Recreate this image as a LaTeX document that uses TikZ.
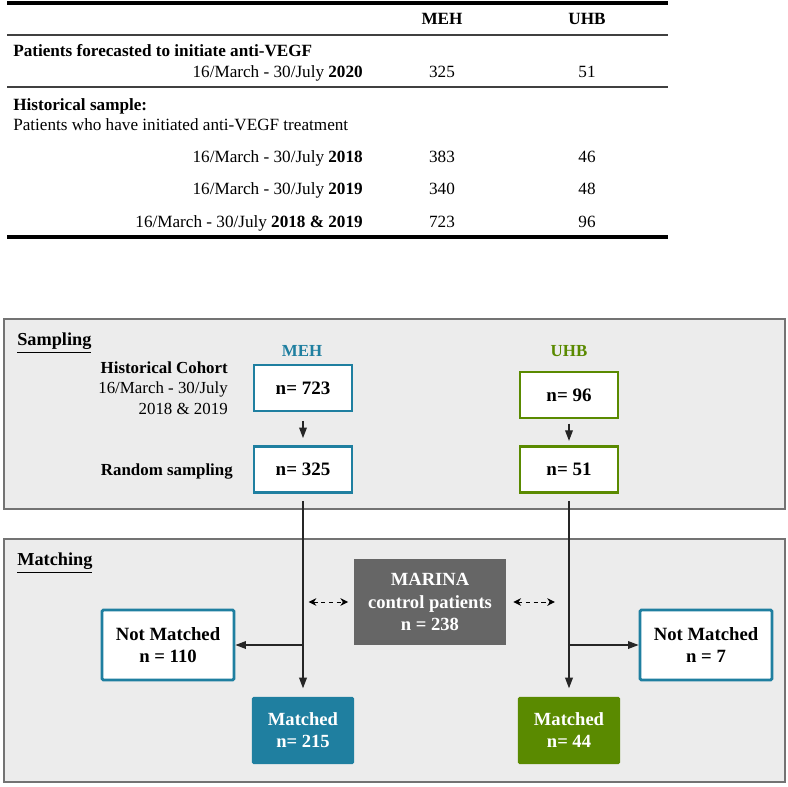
\documentclass[tikz,border=0pt]{standalone}
\usepackage{fontspec}
\setmainfont{Liberation Serif}
\usepackage{tikz}
\usetikzlibrary{positioning,arrows.meta}
\definecolor{mehblue}{HTML}{1F7FA0}
\definecolor{uhbgreen}{HTML}{5A8A00}
\definecolor{panelgray}{HTML}{ECECEC}
\definecolor{marinagray}{HTML}{666666}

\begin{document}
\begin{tikzpicture}[x=0.025cm,y=-0.025cm,
	tabtxt/.style={font=\fontsize{12.2}{14}\selectfont,inner sep=0pt},
	lbl/.style={font=\fontsize{12}{14.6}\selectfont,inner sep=0pt},
	panel/.style={fill=panelgray,draw=black!55,line width=0.8pt},
	nbox/.style={draw=#1,line width=2pt,fill=white,minimum width=2.45cm,minimum height=1.15cm,
		font=\bfseries\fontsize{13.5}{16}\selectfont},
	resbox/.style={fill=#1,text=white,rounded corners=1pt,minimum width=2.55cm,minimum height=1.675cm,
		align=center,font=\bfseries\fontsize{13.2}{15.6}\selectfont},
	notbox/.style={draw=mehblue,line width=2pt,fill=white,rounded corners=1pt,minimum width=3.3cm,
		minimum height=1.75cm,align=center,font=\bfseries\fontsize{13.3}{16.2}\selectfont},
	arr/.style={-{Triangle[length=7.5pt,width=5.5pt]},line width=0.8pt,black!85},
	dasharr/.style={{Stealth[length=5.5pt,width=5.5pt]}-{Stealth[length=5.5pt,width=5.5pt]},
		dash pattern=on 3pt off 2.5pt,line width=0.7pt}]

	\useasboundingbox (0,0) rectangle (787,787);

	% table
	\draw[line width=2.6pt] (7,3) -- (668,3);
	\draw[line width=1.3pt,black!75] (7,35) -- (668,35);
	\draw[line width=1.3pt,black!75] (7,87) -- (668,87);
	\draw[line width=2.6pt] (7,237) -- (668,237);

	\node[tabtxt,anchor=base] (hmeh) at (442,25) {\bfseries MEH};
	\node[tabtxt,anchor=base] (huhb) at (587,25) {\bfseries UHB};

	\node[tabtxt,anchor=base west] (fcast) at (13,57) {\bfseries Patients forecasted to initiate anti-VEGF};
	\node[tabtxt,anchor=base east] (d2020) at (363,78) {16/March - 30/July \textbf{2020}};
	\node[tabtxt,anchor=base] at (442,78) {325};
	\node[tabtxt,anchor=base] at (587,78) {51};

	\node[tabtxt,anchor=base west] (hist) at (13,111) {\bfseries Historical sample:};
	\node[tabtxt,anchor=base west] (histsub) at (13,131) {Patients who have initiated anti-VEGF treatment};

	\node[tabtxt,anchor=base east] (d2018) at (363,163) {16/March - 30/July \textbf{2018}};
	\node[tabtxt,anchor=base] at (442,163) {383};
	\node[tabtxt,anchor=base] at (587,163) {46};
	\node[tabtxt,anchor=base east] (d2019) at (363,195) {16/March - 30/July \textbf{2019}};
	\node[tabtxt,anchor=base] at (442,195) {340};
	\node[tabtxt,anchor=base] at (587,195) {48};
	\node[tabtxt,anchor=base east] (dboth) at (363,227) {16/March - 30/July \textbf{2018 \& 2019}};
	\node[tabtxt,anchor=base] at (442,227) {723};
	\node[tabtxt,anchor=base] at (587,227) {96};

	% panels
	\draw[panel] (4,319) rectangle (785,509);
	\draw[panel] (4,539) rectangle (785,782);
	\node[lbl,anchor=west,font=\fontsize{13}{15}\selectfont] (samp) at (17,343) {\bfseries\underline{Sampling}};
	\node[lbl,anchor=west,font=\fontsize{13}{15}\selectfont] (match) at (17,563) {\bfseries\underline{Matching}};

	% sampling
	\node[lbl,text=mehblue] (mehlbl) at (302,351) {\bfseries MEH};
	\node[lbl,text=uhbgreen] (uhblbl) at (569,351) {\bfseries UHB};
	\node[lbl,anchor=east,align=right] (cohort) at (228,388) {\textbf{Historical Cohort}\\16/March - 30/July\\2018 \& 2019};
	\node[lbl,anchor=east] (rand) at (233,472) {\bfseries Random sampling};

	\node[nbox=mehblue] (meh723) at (303,388) {n= 723};
	\node[nbox=mehblue] (meh325) at (303,469.5) {n= 325};
	\node[nbox=uhbgreen] (uhb96) at (569,395) {n= 96};
	\node[nbox=uhbgreen] (uhb51) at (569,469.5) {n= 51};

	\draw[arr,shorten <=6pt,shorten >=5pt] (meh723) -- (meh325);
	\draw[arr,shorten <=3pt,shorten >=3pt] (uhb96) -- (uhb51);

	% matching
	\node[fill=marinagray,text=white,minimum width=3.8cm,minimum height=2.15cm,align=center,
		font=\bfseries\fontsize{13.2}{16}\selectfont] (marina) at (430,602) {MARINA\\control patients\\n = 238};
	\node[notbox] (mehnot) at (168,645) {Not Matched\\n = 110};
	\node[notbox] (uhbnot) at (706,645) {Not Matched\\n = 7};
	\node[resbox=mehblue] (mehmatch) at (303,730.5) {Matched\\n= 215};
	\node[resbox=uhbgreen] (uhbmatch) at (569,730.5) {Matched\\n= 44};

	\coordinate (mehsplit) at (meh325.south |- mehnot.east);
	\coordinate (uhbsplit) at (uhb51.south |- uhbnot.west);
	\coordinate (mehmid) at (meh325.south |- marina.west);
	\coordinate (uhbmid) at (uhb51.south |- marina.east);

	\draw[arr,shorten <=5pt,shorten >=6pt] (meh325) -- (mehmatch);
	\draw[arr,shorten <=5pt,shorten >=6pt] (uhb51) -- (uhbmatch);
	\draw[arr] (mehsplit) -- (mehnot);
	\draw[arr] (uhbsplit) -- (uhbnot);
	\draw[dasharr,shorten <=4pt,shorten >=4pt] (mehmid) -- (marina);
	\draw[dasharr,shorten <=5pt,shorten >=10pt] (marina) -- (uhbmid);

\end{tikzpicture}
\end{document}
